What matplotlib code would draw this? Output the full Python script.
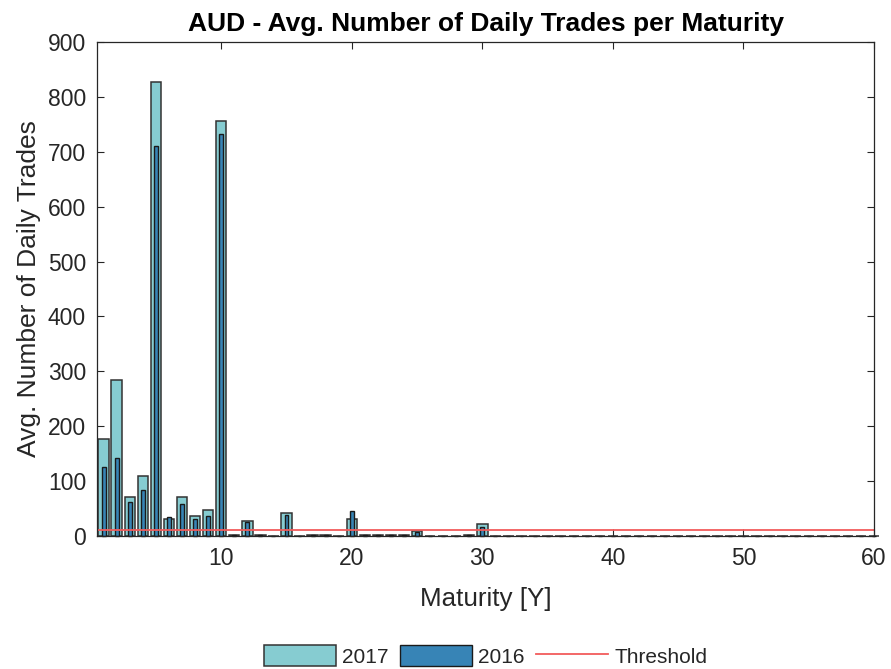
import matplotlib
matplotlib.use('Agg')
import matplotlib.pyplot as plt
import numpy as np

plt.rcParams['font.family'] = ['Liberation Sans', 'DejaVu Sans']

# average number of daily trades, maturities 1..60 years
maturity = np.arange(1, 61)
trades_2017 = [176, 285, 70, 110, 827, 30, 70, 36, 48, 756,
               2, 27, 1.5, 0.5, 42, 0.5, 2, 2, 0.5, 31,
               1, 2, 2, 1.5, 8, 0.5, 0, 0, 2, 22] + [0] * 30
trades_2016 = [126, 142, 62, 84, 711, 34, 58, 30, 36, 733,
               2, 26, 1.5, 0.5, 38, 0.5, 1.5, 1.5, 0.5, 45,
               1, 1.5, 1.5, 1, 7, 0.5, 0, 0, 1.5, 17] + [0] * 30
threshold = 10

tick_color = '#262626'

fig = plt.figure(figsize=(8.91, 6.69), dpi=100)
ax = fig.add_axes([0.109, 0.199, 0.872, 0.738])

b17 = ax.bar(maturity, trades_2017, width=0.8, color='#86CCD1', edgecolor='#333333',
             linewidth=1.1, label='2017', zorder=2, clip_on=False)
b16 = ax.bar(maturity, trades_2016, width=0.3, color='#3784B6', edgecolor='#1a1a1a',
             linewidth=1.0, label='2016', zorder=3, clip_on=False)
thr = ax.axhline(threshold, color='#F25C5C', linewidth=1.3, label='Threshold', zorder=4)

ax.set_xlim(0.5, 60)
ax.set_ylim(0, 900)
ax.set_xticks(np.arange(10, 61, 10))
ax.set_yticks(np.arange(0, 901, 100))

ax.tick_params(direction='in', length=5, width=0.8, top=True, right=True,
               labelsize=16.5, colors=tick_color, pad=8)
for side in ax.spines.values():
    side.set_color(tick_color)
    side.set_linewidth(0.9)
    side.set_zorder(5)

ax.set_xlabel('Maturity [Y]', fontsize=18.7, color=tick_color, labelpad=12)
ax.set_ylabel('Avg. Number of Daily Trades', fontsize=19, color=tick_color, labelpad=5)
ax.set_title('AUD - Avg. Number of Daily Trades per Maturity', fontsize=19,
             fontweight='bold', color='black', pad=8)

leg = ax.legend([b17, b16, thr], ['2017', '2016', 'Threshold'],
                loc='center', bbox_to_anchor=(0.5, -0.243), ncol=3, frameon=False,
                fontsize=15, handlelength=3.45, handleheight=1.2,
                columnspacing=0.55, handletextpad=0.3)
for t in leg.get_texts():
    t.set_color(tick_color)

fig.savefig('out.png', dpi=100)
